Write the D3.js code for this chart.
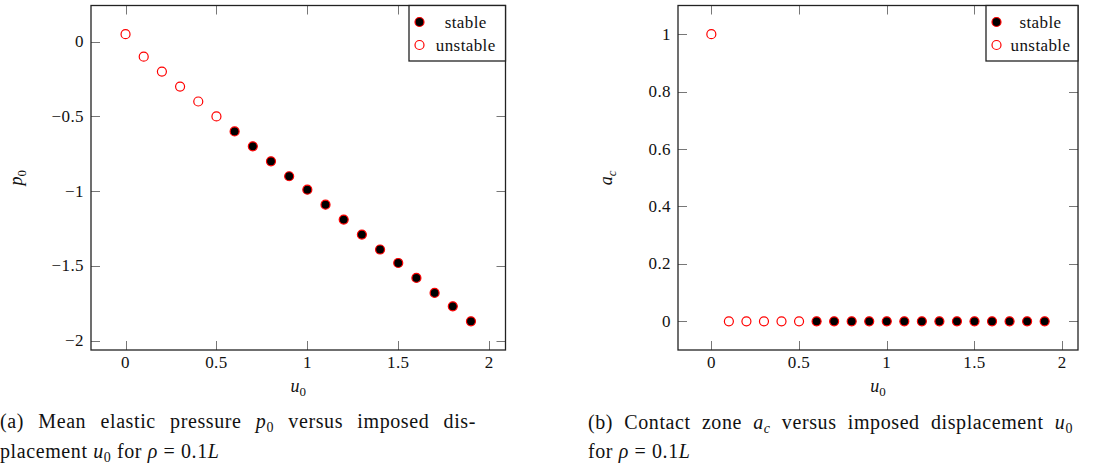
<!DOCTYPE html>
<html>
<head>
<meta charset="utf-8">
<script src="https://cdn.jsdelivr.net/npm/d3@7"></script>
<style>
  body { margin: 0; background: #fff; }
  svg { display: block; }
</style>
</head>
<body>
<svg id="chart" width="1100" height="466" font-family="Liberation Serif, DejaVu Serif, serif"></svg>
<script>
var width = 1100,
    height = 466,
    serif = 'Liberation Serif';

// imposed displacement u0
var u0 = [0, 0.1, 0.2, 0.3, 0.4, 0.5, 0.6, 0.7, 0.8, 0.9, 1.0,
          1.1, 1.2, 1.3, 1.4, 1.5, 1.6, 1.7, 1.8, 1.9];
// mean elastic pressure p0
var p0 = [0.05, -0.1, -0.2, -0.3, -0.4, -0.5, -0.6, -0.7, -0.8, -0.9, -0.99,
          -1.09, -1.19, -1.29, -1.39, -1.48, -1.58, -1.68, -1.77, -1.87];
// contact zone ac
var ac = [1, 0, 0, 0, 0, 0, 0, 0, 0, 0, 0,
          0, 0, 0, 0, 0, 0, 0, 0, 0];
// stability flag (first six points unstable)
var stable = [false, false, false, false, false, false, true, true, true, true, true,
              true, true, true, true, true, true, true, true, true];

var xTicks = [0, 0.5, 1, 1.5, 2];
var p0Ticks = [0, -0.5, -1, -1.5, -2];
var acTicks = [0, 0.2, 0.4, 0.6, 0.8, 1];
var legendLabels = ['stable', 'unstable'];

var svg = d3.select('#chart');

// pgfplots-like 10% enlargement of limits
function enlarged(values) {
    var ext = d3.extent(values);
    var pad = (ext[1] - ext[0]) * 0.1;
    return [ext[0] - pad, ext[1] + pad];
}

function fmt(v) {
    return String(v).replace('-', '\u2212');
}

// draw one panel
function drawPanel(opts) {
    var g = svg.append('g');
    var x = d3.scaleLinear().domain(enlarged(u0)).range([opts.left, opts.right]);
    var y = d3.scaleLinear().domain(enlarged(opts.values)).range([opts.bottom, opts.top]);
    var tl = 9;

    // ticks, inside, on all four sides
    var ticks = g.append('g').attr('stroke', '#777').attr('stroke-width', 1);
    xTicks.forEach(function (t) {
        var px = Math.round(x(t)) + 0.5;
        ticks.append('line').attr('x1', px).attr('x2', px).attr('y1', opts.bottom).attr('y2', opts.bottom - tl);
        ticks.append('line').attr('x1', px).attr('x2', px).attr('y1', opts.top).attr('y2', opts.top + tl);
    });
    opts.ticks.forEach(function (t) {
        var py = Math.round(y(t)) + 0.5;
        ticks.append('line').attr('y1', py).attr('y2', py).attr('x1', opts.left).attr('x2', opts.left + tl);
        ticks.append('line').attr('y1', py).attr('y2', py).attr('x1', opts.right).attr('x2', opts.right - tl);
    });

    // tick labels
    g.selectAll('.xt').data(xTicks).enter().append('text')
        .attr('x', function (d) { return x(d); })
        .attr('y', opts.bottom + 18)
        .attr('text-anchor', 'middle')
        .attr('font-family', serif)
        .attr('font-size', 17)
        .attr('letter-spacing', 0.4)
        .attr('fill', '#111')
        .text(fmt);
    g.selectAll('.yt').data(opts.ticks).enter().append('text')
        .attr('x', opts.left - 7)
        .attr('y', function (d) { return y(d) + 5.5; })
        .attr('text-anchor', 'end')
        .attr('font-family', serif)
        .attr('font-size', 17)
        .attr('letter-spacing', 0.4)
        .attr('fill', '#111')
        .text(fmt);

    // frame
    g.append('rect')
        .attr('x', opts.left).attr('y', opts.top)
        .attr('width', opts.right - opts.left).attr('height', opts.bottom - opts.top)
        .attr('fill', 'none').attr('stroke', '#222').attr('stroke-width', 1.3);

    // markers
    g.selectAll('circle.pt').data(u0).enter().append('circle')
        .attr('class', 'pt')
        .attr('cx', function (d) { return x(d); })
        .attr('cy', function (d, i) { return y(opts.values[i]); })
        .attr('r', 4.5)
        .attr('fill', function (d, i) { return stable[i] ? '#000' : '#fff'; })
        .attr('stroke', 'red')
        .attr('stroke-width', 1.2);

    // axis labels
    var xl = g.append('text')
        .attr('x', (opts.left + opts.right) / 2)
        .attr('y', 392)
        .attr('text-anchor', 'middle')
        .attr('font-family', serif)
        .attr('font-size', 18)
        .attr('fill', '#111');
    xl.append('tspan').attr('font-style', 'italic').text('u');
    xl.append('tspan').attr('dy', 4).attr('font-size', 13).text('0');

    var yl = g.append('text')
        .attr('transform', 'translate(' + opts.ylabelX + ',' + ((opts.top + opts.bottom) / 2) + ')rotate(-90)')
        .attr('text-anchor', 'middle')
        .attr('font-family', serif)
        .attr('font-size', 18)
        .attr('fill', '#111');
    yl.append('tspan').attr('font-style', 'italic').text(opts.ylabel[0]);
    yl.append('tspan').attr('dy', 4).attr('font-size', 13)
        .attr('font-style', opts.ylabel[2] ? 'italic' : 'normal').text(opts.ylabel[1]);

    // legend
    var lg = g.append('g');
    var lw = opts.right - opts.legendLeft;
    lg.append('rect')
        .attr('x', opts.legendLeft).attr('y', opts.top)
        .attr('width', lw).attr('height', 55.5)
        .attr('fill', '#fff').attr('stroke', '#222').attr('stroke-width', 1.3);
    legendLabels.forEach(function (lab, i) {
        var cy = opts.top + 16.5 + i * 23;
        lg.append('circle')
            .attr('cx', opts.legendLeft + 10.5).attr('cy', cy).attr('r', 4.5)
            .attr('fill', i === 0 ? '#000' : '#fff')
            .attr('stroke', 'red').attr('stroke-width', 1.2);
        lg.append('text')
            .attr('x', opts.legendLeft + 19 + (lw - 19) / 2 - 1)
            .attr('y', cy + 5.5)
            .attr('text-anchor', 'middle')
            .attr('font-family', serif)
            .attr('font-size', 17)
            .attr('letter-spacing', 0.4)
            .attr('fill', '#111')
            .text(lab);
    });
}

drawPanel({
    left: 91, right: 505.5, top: 5.5, bottom: 350,
    values: p0, ticks: p0Ticks,
    ylabel: ['p', '0', false], ylabelX: 22,
    legendLeft: 409
});

drawPanel({
    left: 678, right: 1078, top: 5.5, bottom: 350,
    values: ac, ticks: acTicks,
    ylabel: ['a', 'c', true], ylabelX: 612,
    legendLeft: 986
});

// captions; justified lines get extra word spacing
function caption(xPos, yPos, parts, len) {
    var t = svg.append('text')
        .attr('x', xPos).attr('y', yPos)
        .attr('font-family', serif)
        .attr('font-size', 20)
        .attr('letter-spacing', 0.6)
        .attr('fill', '#111');
    parts.forEach(function (p) {
        var s = t.append('tspan').text(p.t);
        if (p.i) s.attr('font-style', 'italic');
        if (p.sub) s.attr('dy', 4).attr('font-size', 14);
        if (p.up) s.attr('dy', -4);
    });
    if (len) {
        var natural = t.node().getComputedTextLength();
        var spaces = parts.map(function (p) { return p.t; }).join('').split(' ').length - 1;
        t.attr('word-spacing', Math.max(0, (len - natural) / spaces));
    }
}

caption(0, 428, [
    {t: '(a) Mean elastic pressure '}, {t: 'p', i: true}, {t: '0', sub: true},
    {t: ' versus imposed dis-', up: true}
], 476);
caption(0, 458, [
    {t: 'placement '}, {t: 'u', i: true}, {t: '0', sub: true},
    {t: ' for ', up: true}, {t: '\u03c1', i: true}, {t: ' = 0.1'}, {t: 'L', i: true}
]);
caption(588, 429, [
    {t: '(b) Contact zone '}, {t: 'a', i: true}, {t: 'c', sub: true, i: true},
    {t: ' versus imposed displacement ', up: true}, {t: 'u', i: true}, {t: '0', sub: true}
], 485);
caption(588, 458, [
    {t: 'for '}, {t: '\u03c1', i: true}, {t: ' = 0.1'}, {t: 'L', i: true}
]);
</script>
</body>
</html>
